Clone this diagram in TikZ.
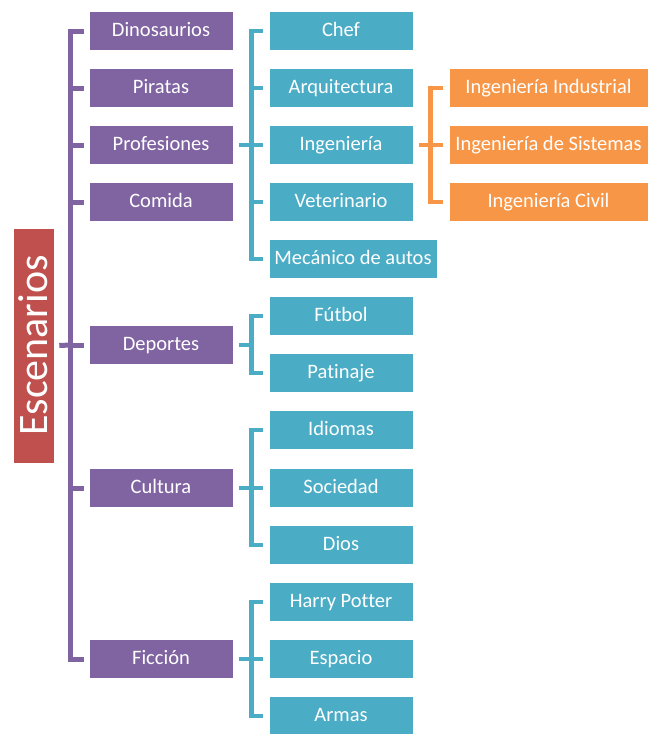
\documentclass[tikz,border=0pt]{standalone}
\usepackage{fontspec}
\setmainfont{Carlito}[Ligatures=NoCommon,RawFeature={-liga;-calt}]
\definecolor{cpurple}{HTML}{8064A2}
\definecolor{cteal}{HTML}{4BACC6}
\definecolor{corange}{HTML}{F79646}
\definecolor{cred}{HTML}{C0504D}
\begin{document}
\begin{tikzpicture}[x=1pt,y=-1pt,
  box/.style={draw=white,line width=0.6pt,text=white,minimum height=39pt,inner sep=0pt,text height=13.2pt,text depth=1.5pt,font=\fontsize{20.5}{24}\selectfont},
  pbox/.style={box,fill=cpurple,minimum width=144pt},
  tbox/.style={box,fill=cteal,minimum width=144pt},
  obox/.style={box,fill=corange,minimum width=199pt},
  pline/.style={draw=cpurple,line width=5pt,line join=miter},
  tline/.style={draw=cteal,line width=4.5pt,line join=miter},
  oline/.style={draw=corange,line width=4.5pt,line join=miter}]
\useasboundingbox (0,0) rectangle (648,734);
% root
\node[fill=cred,draw=white,line width=0.6pt,minimum width=41pt,minimum height=235pt,inner sep=0pt] (root) at (33.5,345.5) {};
\node[rotate=90,text=white,font=\fontsize{42}{48}\selectfont] (roottext) at (root.center) {Escenarios};
% level 1
\node[pbox] (dino) at (161,31) {Dinosaurios};
\node[pbox] (pir) at (161,88) {Piratas};
\node[pbox] (prof) at (161,145) {Profesiones};
\node[pbox] (com) at (161,202) {Comida};
\node[pbox] (dep) at (161,345) {Deportes};
\node[pbox] (cul) at (161,488) {Cultura};
\node[pbox] (fic) at (161,659) {Ficción};
% level 2
\node[tbox] (chef) at (341,31) {Chef};
\node[tbox] (arq) at (341,88) {Arquitectura};
\node[tbox] (ing) at (341,145) {Ingeniería};
\node[tbox] (vet) at (341,202) {Veterinario};
\node[tbox,minimum width=168pt] (mec) at (353,259) {Mecánico de autos};
\node[tbox] (fut) at (341,316) {Fútbol};
\node[tbox] (pat) at (341,373) {Patinaje};
\node[tbox] (idi) at (341,430) {Idiomas};
\node[tbox] (soc) at (341,488) {Sociedad};
\node[tbox] (dios) at (341,545) {Dios};
\node[tbox] (harry) at (341,602) {Harry Potter};
\node[tbox] (esp) at (341,659) {Espacio};
\node[tbox] (arm) at (341,716) {Armas};
% level 3
\node[obox] (indu) at (548.5,88) {Ingeniería Industrial};
\node[obox] (sis) at (548.5,145) {Ingeniería de Sistemas};
\node[obox] (civ) at (548.5,202) {Ingeniería Civil};
% purple bracket
\draw[pline] ([xshift=-5]dino.west) -- ([xshift=-18]dino.west) -- ([xshift=-18]fic.west) -- ([xshift=-5]fic.west);
\foreach \n in {pir,prof,com,dep,cul} \draw[pline] ([xshift=-18]\n.west) -- ([xshift=-5]\n.west);
\draw[pline] ([xshift=5]root.east) -- ([xshift=-18]dep.west);
% teal bracket: Profesiones
\draw[tline] ([xshift=-6]chef.west) -- ([xshift=-17]chef.west) -- ([xshift=-17]mec.west) -- ([xshift=-6]mec.west);
\foreach \n in {arq,ing,vet} \draw[tline] ([xshift=-17]\n.west) -- ([xshift=-6]\n.west);
\draw[tline] ([xshift=6]prof.east) -- ([xshift=-17]ing.west);
% Deportes
\draw[tline] ([xshift=-6]fut.west) -- ([xshift=-17]fut.west) -- ([xshift=-17]pat.west) -- ([xshift=-6]pat.west);
\draw[tline] ([xshift=6]dep.east) -- ([xshift=-17]fut.west |- dep.east);
% Cultura
\draw[tline] ([xshift=-6]idi.west) -- ([xshift=-17]idi.west) -- ([xshift=-17]dios.west) -- ([xshift=-6]dios.west);
\draw[tline] ([xshift=-17]soc.west) -- ([xshift=-6]soc.west);
\draw[tline] ([xshift=6]cul.east) -- ([xshift=-17]soc.west);
% Ficcion
\draw[tline] ([xshift=-6]harry.west) -- ([xshift=-17]harry.west) -- ([xshift=-17]arm.west) -- ([xshift=-6]arm.west);
\draw[tline] ([xshift=-17]esp.west) -- ([xshift=-6]esp.west);
\draw[tline] ([xshift=6]fic.east) -- ([xshift=-17]esp.west);
% orange bracket
\draw[oline] ([xshift=-6]indu.west) -- ([xshift=-18]indu.west) -- ([xshift=-18]civ.west) -- ([xshift=-6]civ.west);
\draw[oline] ([xshift=-18]sis.west) -- ([xshift=-6]sis.west);
\draw[oline] ([xshift=6]ing.east) -- ([xshift=-18]sis.west);
\end{tikzpicture}
\end{document}
